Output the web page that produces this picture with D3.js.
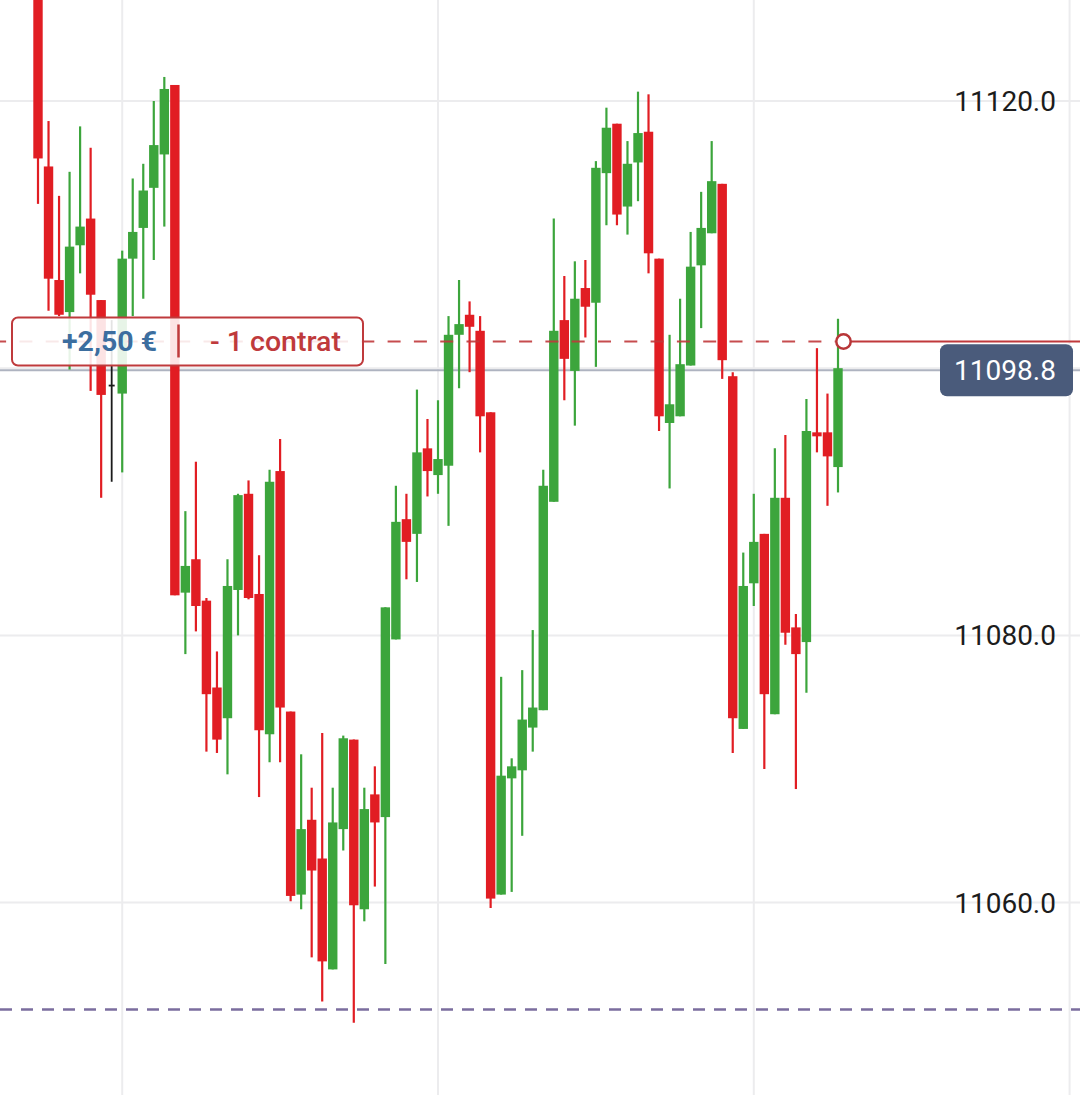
<!DOCTYPE html>
<html>
<head>
<meta charset="utf-8">
<script src="https://cdnjs.cloudflare.com/ajax/libs/d3/7.8.5/d3.min.js"></script>
<style>
  html, body { margin: 0; padding: 0; background: #ffffff; }
  svg { display: block; font-family: Roboto, "Noto Sans", sans-serif; }
</style>
</head>
<body>
<svg id="chart" width="1080" height="1095"></svg>
<script>
// ---- data ----
const opens  = [11129.0,11115.1,11106.6,11104.2,11109.2,11111.2,11105.1,11098.7,11098.1,11108.2,
                11110.5,11113.5,11116.0,11121.2,11083.2,11085.7,11082.6,11076.1,11073.8,11083.4,
                11090.6,11083.1,11072.6,11092.3,11074.3,11060.6,11066.2,11063.3,11055.0,11065.5,
                11072.2,11059.5,11068.1,11066.4,11079.7,11088.7,11087.6,11094.0,11092.0,11092.7,
                11102.5,11104.0,11102.8,11096.7,11060.6,11069.3,11069.9,11073.1,11074.4,11090.0,
                11103.6,11099.8,11106.0,11104.9,11114.6,11118.3,11112.1,11115.4,11117.7,11108.2,
                11095.9,11096.4,11100.2,11107.7,11110.1,11113.8,11099.4,11073.0,11083.9,11087.6,
                11074.1,11090.3,11080.6,11079.5,11095.2,11095.2,11092.6];
const highs  = [11131.0,11118.5,11112.9,11114.7,11118.1,11116.5,11105.1,11103.6,11108.8,11114.2,
                11115.3,11120.0,11121.8,11121.2,11089.3,11093.0,11082.8,11078.8,11085.7,11090.6,
                11091.6,11086.0,11092.4,11094.7,11074.3,11071.1,11068.6,11072.7,11068.6,11072.5,
                11072.2,11068.6,11070.2,11082.1,11091.2,11090.6,11098.4,11096.2,11097.6,11103.9,
                11106.6,11105.0,11103.9,11096.7,11076.9,11070.8,11077.4,11080.4,11092.4,11111.2,
                11106.9,11108.0,11108.1,11115.5,11119.5,11118.3,11117.0,11120.7,11120.5,11108.2,
                11102.5,11105.2,11110.2,11113.2,11117.0,11113.8,11099.7,11086.2,11090.6,11087.6,
                11094.0,11095.0,11081.6,11097.7,11101.5,11098.1,11103.7];
const lows   = [11112.3,11104.3,11103.9,11099.9,11107.1,11098.3,11090.3,11091.5,11092.2,11103.9,
                11105.2,11108.1,11110.6,11083.0,11078.6,11080.3,11071.3,11071.2,11069.6,11080.0,
                11082.7,11067.9,11070.5,11070.5,11060.1,11059.5,11055.9,11052.6,11055.0,11063.9,
                11051.0,11058.6,11061.2,11055.4,11079.7,11084.2,11084.0,11090.4,11090.6,11088.2,
                11098.5,11099.7,11093.7,11059.6,11060.6,11060.8,11065.0,11071.3,11074.4,11090.0,
                11097.6,11095.7,11102.3,11100.1,11110.7,11110.7,11110.0,11112.5,11107.1,11095.3,
                11091.0,11096.4,11100.2,11103.0,11110.1,11099.2,11071.2,11073.0,11082.2,11070.0,
                11074.1,11079.3,11068.5,11075.7,11093.7,11089.7,11090.7];
const closes = [11115.7,11106.7,11104.0,11109.1,11110.6,11105.5,11098.0,11098.7,11108.2,11110.2,
                11113.3,11116.7,11120.9,11083.0,11085.2,11082.2,11075.6,11072.2,11083.7,11090.5,
                11082.8,11072.9,11091.5,11074.6,11060.5,11065.5,11062.4,11055.6,11066.0,11072.3,
                11059.8,11067.0,11066.0,11082.1,11088.5,11087.0,11093.7,11092.3,11093.2,11102.5,
                11103.3,11103.1,11096.4,11060.3,11069.5,11070.2,11073.7,11074.6,11091.2,11102.8,
                11100.7,11105.2,11104.6,11115.0,11118.0,11111.5,11115.3,11117.6,11108.6,11096.4,
                11097.3,11100.3,11107.6,11110.5,11114.0,11100.6,11073.8,11083.7,11087.0,11075.6,
                11090.3,11080.2,11078.6,11095.3,11094.9,11093.4,11100.0];
const categories = d3.range(opens.length);           // bar index (time slots)
const yTickValues = [11060, 11080, 11100, 11120];
const xGridIndices = [8, 38, 68, 98];                 // vertical time grid lines
const entryPrice = 11102.0;                           // position line
const stopPrice = 11052.0;                            // purple dashed level
const lastPriceLabel = "11098.8";
const pnlText = "+2,50 €";
const qtyText = "- 1 contrat";

// ---- layout ----
const W = 1080, H = 1095;
const svg = d3.select("#chart");
const x = d3.scaleLinear().domain([0, categories.length - 1]).range([38, 838]);
const y = d3.scaleLinear().domain([11060, 11120]).range([902.6, 101]);
const bodyW = 9.4;
const RED = "#e11d23", GREEN = "#3ca53c", DOJI = "#1a1a1a";

// grid
svg.append("g").selectAll("line").data(xGridIndices).join("line")
  .attr("x1", d => x(d)).attr("x2", d => x(d)).attr("y1", 0).attr("y2", H)
  .attr("stroke", "#ececee").attr("stroke-width", 2);
svg.append("g").selectAll("line").data(yTickValues).join("line")
  .attr("x1", 0).attr("x2", W).attr("y1", d => y(d)).attr("y2", d => y(d))
  .attr("stroke", "#ececee").attr("stroke-width", 2);

// last price line (grey)
const lastClose = closes[closes.length - 1];
svg.append("line").attr("x1", 0).attr("x2", W)
  .attr("y1", y(lastClose) + 2).attr("y2", y(lastClose) + 2)
  .attr("stroke", "#aeb3c0").attr("stroke-width", 2);

// purple dashed
svg.append("line").attr("x1", 0).attr("x2", W)
  .attr("y1", y(stopPrice)).attr("y2", y(stopPrice))
  .attr("stroke", "#7b6d9e").attr("stroke-width", 2.5)
  .attr("stroke-dasharray", "12,9");

// candles
const bars = categories.map(i => ({i, o: opens[i], h: highs[i], l: lows[i], c: closes[i]}));
const col = d => d.c > d.o ? GREEN : (d.c < d.o ? RED : DOJI);
const g = svg.append("g");
g.selectAll("line.wick").data(bars).join("line").attr("class", "wick")
  .attr("x1", d => x(d.i)).attr("x2", d => x(d.i))
  .attr("y1", d => y(d.h)).attr("y2", d => y(d.l))
  .attr("stroke", col).attr("stroke-width", d => col(d) === DOJI ? 1.8 : 2.2);
g.selectAll("rect.body").data(bars.filter(d => d.o !== d.c)).join("rect").attr("class", "body")
  .attr("x", d => x(d.i) - bodyW / 2).attr("width", bodyW)
  .attr("y", d => y(Math.max(d.o, d.c)))
  .attr("height", d => Math.max(1.5, Math.abs(y(d.o) - y(d.c))))
  .attr("fill", col);
g.selectAll("line.doji").data(bars.filter(d => d.o === d.c)).join("line").attr("class", "doji")
  .attr("x1", d => x(d.i) - 3).attr("x2", d => x(d.i) + 3)
  .attr("y1", d => y(d.o)).attr("y2", d => y(d.o))
  .attr("stroke", DOJI).attr("stroke-width", 1.8);

// position line
const yE = y(entryPrice);
const lastX = x(categories.length - 1) + 5.5;
svg.append("line").attr("x1", 0).attr("x2", lastX - 8)
  .attr("y1", yE).attr("y2", yE)
  .attr("stroke", "#c0393b").attr("stroke-opacity", 0.9).attr("stroke-width", 2)
  .attr("stroke-dasharray", "13,13.3").attr("stroke-dashoffset", 6.9);
svg.append("line").attr("x1", lastX + 7).attr("x2", W)
  .attr("y1", yE).attr("y2", yE)
  .attr("stroke", "#c0393b").attr("stroke-width", 2.2);
svg.append("circle").attr("cx", lastX).attr("cy", yE).attr("r", 7.2)
  .attr("fill", "#ffffff").attr("stroke", "#b83638").attr("stroke-width", 2.5);

// position label
const lab = svg.append("g");
lab.append("rect").attr("x", 12).attr("y", yE - 24).attr("width", 351).attr("height", 48)
  .attr("rx", 6).attr("fill", "#ffffff").attr("fill-opacity", 0.88)
  .attr("stroke", "#bf3a3c").attr("stroke-width", 2);
lab.append("text").attr("x", 62).attr("y", yE + 10)
  .attr("font-size", 28.5).attr("font-weight", 700).attr("fill", "#3c6e9f").text(pnlText);
lab.append("line").attr("x1", 178.5).attr("x2", 178.5).attr("y1", yE - 17).attr("y2", yE + 16)
  .attr("stroke", "#bf3a3c").attr("stroke-width", 2.5);
lab.append("text").attr("x", 210).attr("y", yE + 10)
  .attr("font-size", 28.5).attr("font-weight", 500).attr("fill", "#bf3a3c").text(qtyText);

// y axis labels
svg.append("g").selectAll("text").data(yTickValues).join("text")
  .attr("x", 1056).attr("y", d => y(d)).attr("dy", "0.36em")
  .attr("text-anchor", "end").attr("font-size", 28).attr("fill", "#1c1c1c")
  .text(d => d3.format(".1f")(d));

// last price tag
const yL = y(lastClose) + 2;
svg.append("rect").attr("x", 940).attr("y", yL - 26).attr("width", 133).attr("height", 52)
  .attr("rx", 7).attr("fill", "#4a5b7b");
svg.append("text").attr("x", 1005).attr("y", yL).attr("dy", "0.36em")
  .attr("text-anchor", "middle").attr("font-size", 28).attr("fill", "#ffffff").text(lastPriceLabel);
</script>
</body>
</html>
